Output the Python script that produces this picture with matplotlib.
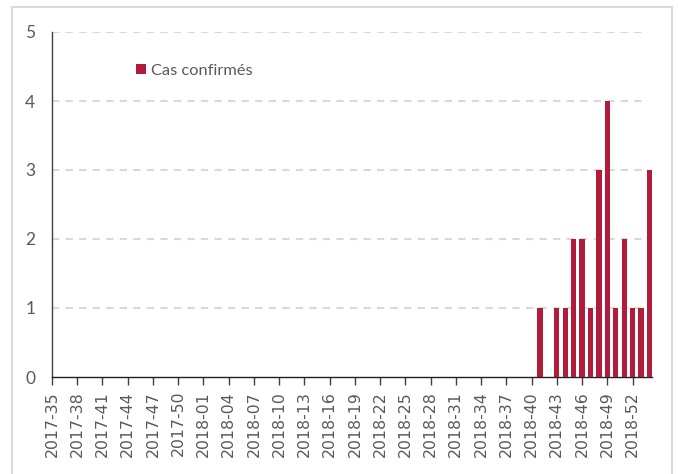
import matplotlib.pyplot as plt
from matplotlib.patches import Rectangle

# epi weeks shown on the axis (2017-35 .. 2019-02)
weeks = ['2017-%02d' % w for w in range(35, 53)] + \
        ['2018-%02d' % w for w in range(1, 53)] + ['2019-01', '2019-02']
# confirmed cases per week
cases = [0] * 58 + [1, 0, 1, 1, 2, 2, 1, 3, 4, 1, 2, 1, 1, 3]
series_label = 'Cas confirmés'
yticks = [0, 1, 2, 3, 4, 5]

bar_color = '#B31B3B'
text_color = '#595959'
narrow = ['Lato', 'DejaVu Sans']

fig = plt.figure(figsize=(6.78, 4.74), dpi=100)
ax = fig.add_axes([52 / 678, 1 - 377 / 474, 600 / 678, 345 / 474])

x = list(range(len(weeks)))
ax.bar(x, cases, width=0.62, color=bar_color, label=series_label, zorder=3)

ax.set_ylim(0, 5)
ax.set_xlim(0, len(weeks) - 1 + 0.31)
ax.set_yticks(yticks)
ax.set_yticklabels([str(v) for v in yticks], fontsize=12.5, color=text_color,
                   family=narrow)
ax.tick_params(axis='y', length=0, pad=12)

ax.set_xticks(x[::3])
ax.set_xticklabels(weeks[::3], rotation=90, fontsize=11.3, color=text_color)
ax.tick_params(axis='x', length=6, width=1, color='#404040', pad=4)

for v in yticks[1:]:
    ax.axhline(v, xmin=0, xmax=0.993, color='#D9D9D9', lw=1.5,
               ls=(0, (3.5, 3)), zorder=1)

for s in ['top', 'right']:
    ax.spines[s].set_visible(False)
ax.spines['left'].set_color('#404040')
ax.spines['bottom'].set_color('#202020')
ax.spines['left'].set_linewidth(1)
ax.spines['bottom'].set_linewidth(1)

leg = ax.legend(loc='upper left', bbox_to_anchor=((136 - 52) / 600, 1 - (64 - 32) / 345),
                frameon=False, handlelength=0.6, handleheight=0.6, handletextpad=0.3,
                borderpad=0, borderaxespad=0,
                prop={'family': narrow, 'size': 11.8})
for t in leg.get_texts():
    t.set_color(text_color)

# light outer frame
fig.patches.append(Rectangle((12 / 678, -0.05), 660 / 678, 1 - 7 / 474 + 0.05,
                             transform=fig.transFigure, fill=False,
                             edgecolor='#D9D9D9', lw=1.5))

fig.savefig('out.png', dpi=100)
